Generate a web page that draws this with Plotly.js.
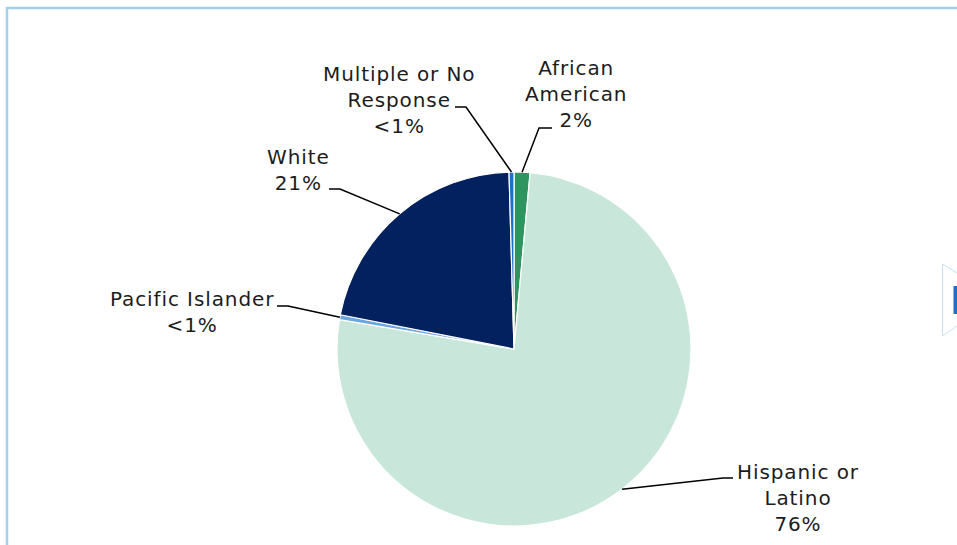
<!DOCTYPE html>
<html>
<head>
<meta charset="utf-8">
<script src="https://cdn.plot.ly/plotly-3.0.1.min.js"></script>
<style>
  html, body { margin: 0; padding: 0; background: #fff; }
  #chart { width: 957px; height: 545px; }
  .annotation-text { letter-spacing: 0.9px; }
</style>
</head>
<body>
<div id="chart"></div>
<script>
// ---- data ----
const categories = ['African American', 'Hispanic or Latino', 'Pacific Islander', 'White', 'Multiple or No Response'];
const values = [1.45, 76.2, 0.45, 21.45, 0.45];
const pctLabels = ['2%', '76%', '<1%', '21%', '<1%'];
const labelLines = ['African<br>American', 'Hispanic or<br>Latino', 'Pacific Islander', 'White', 'Multiple or No<br>Response'];
const colors = ['#2F9460', '#C9E6DA', '#6CA6DE', '#03215E', '#1F6FC4'];

// ---- layout geometry (pixels) ----
const W = 957, H = 545;
const CX = 514, CY = 349, R = 177;
// label placement: [elbow x, elbow y, end x, text center x, text center y]
const labelPos = [
  [539, 128, 552, 576, 94],
  [723, 478, 733, 798, 498],
  [288, 306, 277, 192, 312],
  [340, 189, 329, 298, 170],
  [466, 107, 455, 399, 100]
];

const px = x => x / W;
const py = y => 1 - y / H;

const total = values.reduce((a, b) => a + b, 0);
let cum = 0;
const shapes = [];
const annotations = [];
values.forEach((v, i) => {
  const mid = (cum + v / 2) / total * 2 * Math.PI; // clockwise from 12 o'clock
  cum += v;
  const sx = CX + R * Math.sin(mid);
  const sy = CY - R * Math.cos(mid);
  const [ex, ey, tx, lx, ly] = labelPos[i];
  shapes.push({
    type: 'path', xref: 'paper', yref: 'paper',
    path: `M${px(sx)},${py(sy)} L${px(ex)},${py(ey)} L${px(tx)},${py(ey)}`,
    line: { color: '#000', width: 1.5 }
  });
  annotations.push({
    xref: 'paper', yref: 'paper', x: px(lx), y: py(ly),
    xanchor: 'center', yanchor: 'middle', align: 'center',
    showarrow: false,
    text: labelLines[i] + '<br>' + pctLabels[i],
    font: { family: 'DejaVu Sans, Verdana, sans-serif', size: 20, color: '#1c1c1c' }
  });
});

// frame border and side widget
shapes.push({ type: 'path', xref: 'paper', yref: 'paper',
  path: `M${px(7)},${py(H + 5)} L${px(7)},${py(8)} L${px(W + 5)},${py(8)}`,
  line: { color: '#A3D3EC', width: 2.5 } });
shapes.push({ type: 'path', xref: 'paper', yref: 'paper',
  path: `M${px(W)},${py(273)} L${px(942.5)},${py(264)} L${px(942.5)},${py(336)} L${px(W)},${py(326)}`,
  line: { color: '#C9E0F4', width: 1 } });
shapes.push({ type: 'rect', xref: 'paper', yref: 'paper',
  x0: px(953.5), x1: px(W), y0: py(314), y1: py(286),
  fillcolor: '#1F6FC4', line: { width: 0 } });

const trace = {
  type: 'pie',
  labels: categories,
  values: values,
  sort: false,
  direction: 'clockwise',
  rotation: 0,
  textinfo: 'none',
  hoverinfo: 'label+percent',
  marker: { colors: colors, line: { color: '#ffffff', width: 1.2 } },
  domain: { x: [px(CX - R), px(CX + R)], y: [py(CY + R), py(CY - R)] },
  showlegend: false
};

const layout = {
  width: W, height: H,
  margin: { l: 0, r: 0, t: 0, b: 0 },
  paper_bgcolor: '#ffffff',
  showlegend: false,
  shapes: shapes,
  annotations: annotations
};

Plotly.newPlot('chart', [trace], layout, { displayModeBar: false, staticPlot: true });
</script>
</body>
</html>
